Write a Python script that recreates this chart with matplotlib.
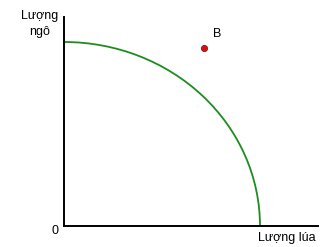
import matplotlib
matplotlib.use("Agg")
import matplotlib.pyplot as plt
from matplotlib.patches import Arc

plt.rcParams['font.family'] = ['Liberation Sans', 'DejaVu Sans']

# frontier intercepts and point B (data units)
max_rice = 10.0
max_corn = 10.0
point_b = (7.14, 9.67)
x_label = "Lượng lúa"
y_label = "Lượng ngô"

W, H = 328, 247
fig = plt.figure(figsize=(W / 100, H / 100), dpi=100)
# axes box in pixels: x 64..318, y 17..226
ax = fig.add_axes([64 / W, 1 - 226 / H, (318 - 64) / W, (226 - 17) / H])
ax.set_xlim(0, 254 / 19.6)
ax.set_ylim(0, 209 / 18.4)
ax.set_facecolor('none')
for s in ['top', 'right']:
    ax.spines[s].set_visible(False)
for s in ['left', 'bottom']:
    ax.spines[s].set_linewidth(1.4)
    ax.spines[s].set_color('black')
ax.set_xticks([])
ax.set_yticks([])

ax.add_patch(Arc((0, 0), 2 * max_rice, 2 * max_corn, theta1=0, theta2=90,
                 color='#1e8c1e', lw=1.3, clip_on=False))

ax.plot(point_b[0], point_b[1], 'o', color='#d81010', mec='#8a0000',
        mew=0.5, ms=4.5, clip_on=False)
ax.text(point_b[0] + 0.45, point_b[1] + 0.45, "B", fontsize=9,
        ha='left', va='bottom')

fig.text(40 / W, 1 - 10 / H, y_label.split()[0], fontsize=9, ha='center', va='top')
fig.text(40 / W, 1 - 26 / H, y_label.split()[1], fontsize=9, ha='center', va='top')
fig.text(55 / W, 1 - 231 / H, "0", fontsize=9, ha='center', va='center')
fig.text(287 / W, 1 - 238 / H, x_label, fontsize=9, ha='center', va='center')

fig.savefig("out.png", dpi=100)
